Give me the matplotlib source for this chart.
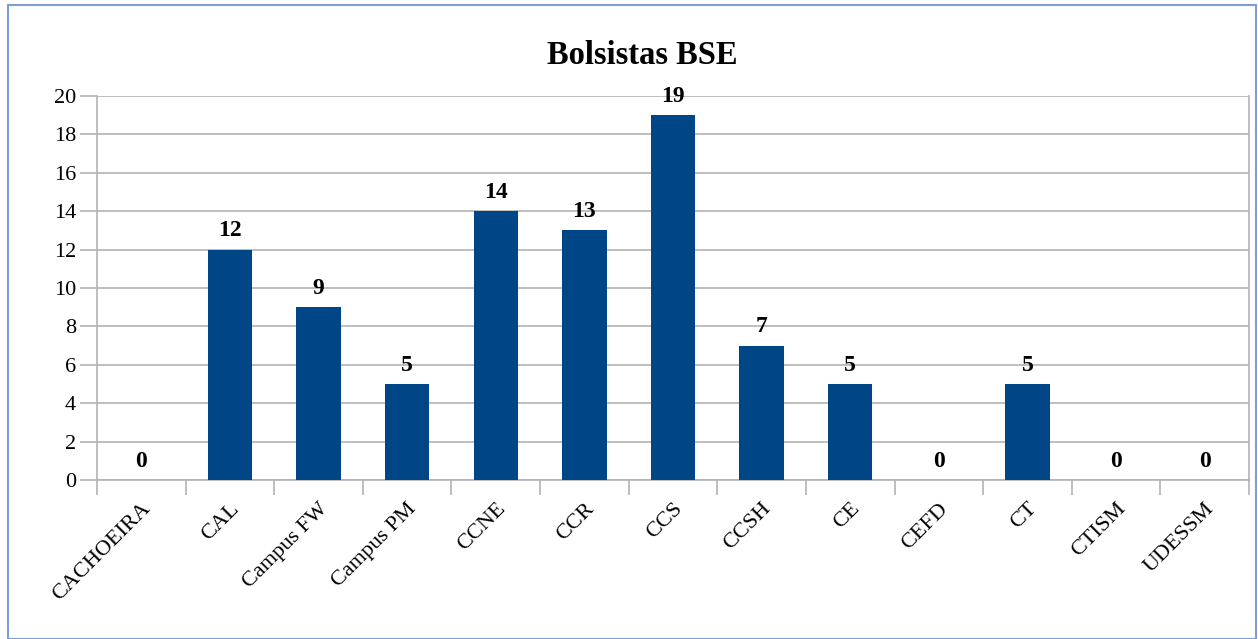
import matplotlib
matplotlib.use("Agg")
import matplotlib.pyplot as plt
import numpy as np

categories = ["CACHOEIRA", "CAL", "Campus FW", "Campus PM", "CCNE", "CCR", "CCS",
              "CCSH", "CE", "CEFD", "CT", "CTISM", "UDESSM"]
values = [0, 12, 9, 5, 14, 13, 19, 7, 5, 0, 5, 0, 0]
yticks = list(range(0, 21, 2))
title = "Bolsistas BSE"

W, H = 1258, 639
fig = plt.figure(figsize=(W / 100, H / 100), dpi=100)
serif = ["Liberation Serif", "DejaVu Serif"]
grid_c = "#b3b3b3"

ax = fig.add_axes([97 / W, 1 - 480 / H, (1249 - 97) / W, (480 - 96) / H])
x = np.arange(len(categories))
ax.bar(x, values, width=0.5, color="#004586", zorder=3)
ax.set_xlim(-0.5, len(categories) - 0.5)
ax.set_ylim(0, 20)
ax.set_yticks(yticks)
ax.set_yticklabels([str(t) for t in yticks], fontfamily=serif, fontsize=16)
ax.yaxis.grid(True, color=grid_c, linewidth=1.2, zorder=0)
ax.tick_params(axis="y", length=12, color=grid_c, width=1.2, pad=3)

ax.set_xticks(x)
ax.set_xticklabels(categories, rotation=45, ha="right", rotation_mode="anchor",
                   fontfamily=serif, fontsize=16)
ax.tick_params(axis="x", length=0, pad=14)
ax.set_xticks(np.arange(-0.5, len(categories)), minor=True)
ax.tick_params(axis="x", which="minor", length=11, color=grid_c, width=1.2)

for s in ["left", "bottom", "right"]:
    ax.spines[s].set_color(grid_c)
    ax.spines[s].set_linewidth(1.2)
ax.spines["top"].set_visible(False)

for xi, v in zip(x, values):
    ax.annotate(str(v), (xi, v), xytext=(0, 6), textcoords="offset points",
                ha="center", va="bottom", fontfamily=serif, fontsize=17,
                fontweight="bold", zorder=4)

fig.text(642 / W, 1 - 55 / H, title, ha="center", va="center",
         fontfamily=serif, fontsize=23.5, fontweight="bold")

border = plt.Rectangle((8 / W, 0), (1256 - 8) / W, 1 - 5 / H, transform=fig.transFigure,
                       fill=False, edgecolor="#7d9fd3", linewidth=1.5)
fig.patches.append(border)

fig.savefig("out.png", dpi=100)
